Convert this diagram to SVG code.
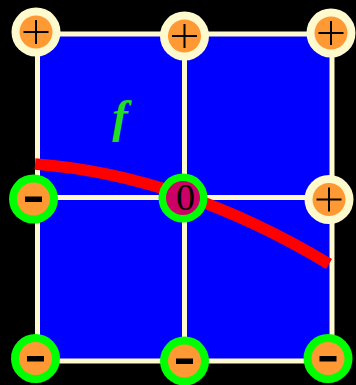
<svg xmlns="http://www.w3.org/2000/svg" width="356" height="385" viewBox="0 0 356 385">
<style>
.grid{stroke:#fffacd;stroke-width:5;fill:none}
.pos{fill:#fffacd}
.neg{fill:#00ff00}
.in{fill:#ff9933}
.plus{stroke:#000;stroke-width:2;fill:none}
.minus{fill:#000}
</style>
<defs>
<g id="p"><circle r="24.5" class="pos"/><circle r="16.5" class="in"/><path class="plus" d="M-12.5,0H12.5M0,-12V12"/></g>
<g id="m"><circle r="24.5" class="neg"/><circle r="16.5" class="in"/><rect x="-8.5" y="-2.5" width="17" height="5.5" class="minus"/></g>
</defs>
<rect width="356" height="385" fill="#000"/>
<rect x="37.5" y="34" width="294.5" height="327" fill="#0000ff"/>
<g id="connectors">
<rect class="grid" x="37.5" y="34" width="294.5" height="327"/>
<line class="grid" x1="184.5" y1="34" x2="184.5" y2="361"/>
<line class="grid" x1="37.5" y1="197.5" x2="332" y2="197.5"/>
</g>
<text x="120" y="132" font-family="Liberation Serif, serif" font-style="italic" font-weight="bold" font-size="47" fill="#22dd22" text-anchor="middle">f</text>
<path id="curve" d="M35,164 Q181,175 329,264" stroke="#ff0000" stroke-width="11.5" fill="none"/>
<g id="n-tl"><use href="#p" x="36" y="32"/></g>
<g id="n-tm"><use href="#p" x="184.5" y="36"/></g>
<g id="n-tr"><use href="#p" x="331" y="33"/></g>
<g id="n-ml"><use href="#m" x="33.5" y="199"/></g>
<g id="n-c"><circle cx="183" cy="198" r="24.5" fill="#00ff00"/><circle cx="183" cy="198" r="17" fill="#cc0066"/><text x="185.5" y="210" font-family="Liberation Serif, serif" font-size="38" fill="#000" text-anchor="middle">0</text></g>
<g id="n-mr"><use href="#p" x="329" y="199.5"/></g>
<g id="n-bl"><use href="#m" x="35.5" y="358.5"/></g>
<g id="n-bm"><use href="#m" x="184.5" y="361"/></g>
<g id="n-br"><use href="#m" x="328" y="358.5"/></g>
</svg>
